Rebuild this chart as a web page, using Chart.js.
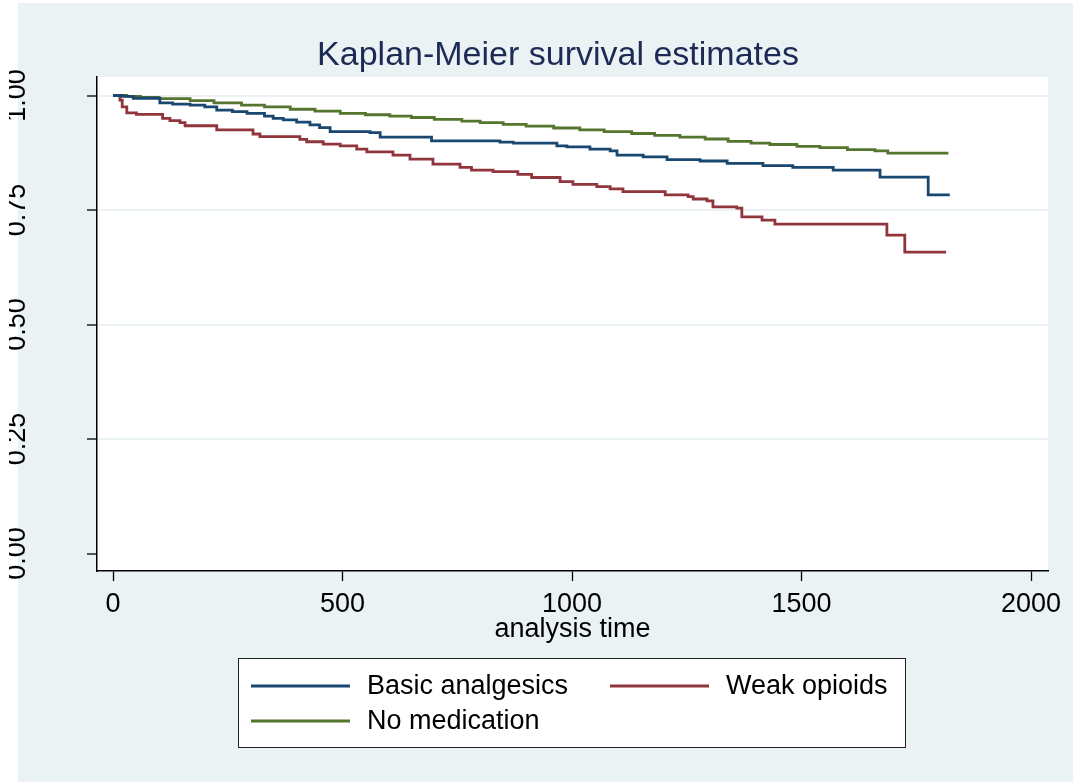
<!DOCTYPE html>
<html lang="en">
<head>
<meta charset="UTF-8">
<title>Kaplan-Meier survival estimates</title>
<script src="https://cdn.jsdelivr.net/npm/chart.js"></script>
<style>
  html, body { margin: 0; padding: 0; background: #fff; }
  canvas { display: block; }
</style>
</head>
<body>
<canvas id="km" width="1073" height="782"></canvas>
<script>
// KM step curves (analysis time in days, survival estimate)
const basicTimes = [0, 20, 44, 102, 130, 168, 200, 226, 260, 292, 330, 349, 371, 400, 429, 450, 473, 560, 582, 694, 843, 872, 967, 989, 1039, 1083, 1098, 1155, 1207, 1279, 1338, 1416, 1481, 1569, 1671, 1776, 1823];
const basicSurv  = [1.0, 0.998, 0.994, 0.984, 0.981, 0.979, 0.975, 0.968, 0.965, 0.961, 0.955, 0.950, 0.947, 0.942, 0.936, 0.930, 0.921, 0.919, 0.909, 0.901, 0.898, 0.896, 0.890, 0.888, 0.883, 0.879, 0.870, 0.866, 0.860, 0.857, 0.852, 0.847, 0.843, 0.837, 0.822, 0.783, 0.783];

const weakTimes = [0, 15, 20, 30, 51, 108, 124, 146, 157, 226, 305, 320, 407, 422, 458, 495, 531, 553, 610, 647, 697, 756, 781, 828, 882, 912, 974, 1002, 1054, 1083, 1111, 1203, 1253, 1264, 1294, 1307, 1359, 1370, 1414, 1442, 1686, 1725, 1815];
const weakSurv  = [1.0, 0.990, 0.975, 0.962, 0.959, 0.950, 0.945, 0.941, 0.934, 0.925, 0.916, 0.910, 0.904, 0.899, 0.894, 0.890, 0.883, 0.877, 0.870, 0.861, 0.850, 0.843, 0.837, 0.834, 0.828, 0.821, 0.812, 0.806, 0.801, 0.796, 0.790, 0.783, 0.779, 0.774, 0.770, 0.757, 0.754, 0.735, 0.728, 0.719, 0.695, 0.658, 0.658];

const noneTimes = [0, 30, 60, 100, 168, 220, 280, 330, 386, 440, 495, 550, 603, 650, 700, 760, 800, 850, 900, 960, 1017, 1070, 1130, 1180, 1235, 1290, 1340, 1390, 1431, 1490, 1540, 1600, 1660, 1688, 1820];
const noneSurv  = [1.0, 0.998, 0.996, 0.993, 0.989, 0.984, 0.979, 0.975, 0.970, 0.966, 0.961, 0.958, 0.955, 0.952, 0.948, 0.944, 0.941, 0.937, 0.933, 0.929, 0.925, 0.921, 0.917, 0.913, 0.909, 0.905, 0.900, 0.896, 0.893, 0.889, 0.886, 0.882, 0.879, 0.874, 0.874];

const groupLabels = ['Basic analgesics', 'Weak opioids', 'No medication'];
const groupColors = ['#1a476f', '#90353b', '#55752f'];

const xTicks = [0, 500, 1000, 1500, 2000];
const xTickLabels = ['0', '500', '1000', '1500', '2000'];
const yTicks = [0, 0.25, 0.5, 0.75, 1];
const yTickLabels = ['0.00', '0.25', '0.50', '0.75', '1.00'];

const chartTitle = 'Kaplan-Meier survival estimates';
const xTitle = 'analysis time';

const FONT = '"Liberation Sans", Arial, sans-serif';
const BG = '#eaf2f3';

function toPoints(times, surv) {
    return times.map((t, i) => ({ x: t, y: surv[i] }));
}

// stata-ish decorations: graph region, title, rotated y labels, boxed legend
const stataLook = {
    id: 'stataLook',
    beforeDraw(chart) {
        const ctx = chart.ctx, a = chart.chartArea;
        ctx.save();
        ctx.fillStyle = '#fff';
        ctx.fillRect(0, 0, chart.width, chart.height);
        ctx.fillStyle = BG;
        ctx.fillRect(18, 3, chart.width - 18, chart.height - 3);
        ctx.fillStyle = '#fff';
        ctx.fillRect(a.left, a.top, a.right - a.left, a.bottom - a.top);
        ctx.restore();
    },
    afterDraw(chart) {
        const ctx = chart.ctx, a = chart.chartArea;
        const yScale = chart.scales.y;
        ctx.save();

        // title
        ctx.fillStyle = '#1c2b56';
        ctx.font = '34px ' + FONT;
        ctx.textAlign = 'center';
        ctx.textBaseline = 'alphabetic';
        ctx.fillText(chartTitle, 558, 65);

        // x axis title
        ctx.fillStyle = '#000';
        ctx.font = '27px ' + FONT;
        ctx.fillText(xTitle, (a.left + a.right) / 2, 637);

        // y tick labels, rotated, cut at the left edge like the original
        ctx.save();
        ctx.beginPath();
        ctx.rect(9, 0, chart.width, chart.height);
        ctx.clip();
        yTicks.forEach((v, i) => {
            const py = yScale.getPixelForValue(v);
            ctx.save();
            ctx.translate(25, py);
            ctx.rotate(-Math.PI / 2);
            ctx.textAlign = 'center';
            ctx.fillText(yTickLabels[i], 0, 0);
            ctx.restore();
        });
        ctx.restore();

        // legend box
        ctx.fillStyle = '#fff';
        ctx.fillRect(238, 658, 667, 89);
        ctx.strokeStyle = '#222';
        ctx.lineWidth = 1;
        ctx.strokeRect(238.5, 658.5, 667, 89);
        ctx.textAlign = 'left';
        ctx.textBaseline = 'middle';
        chart.data.datasets.forEach((ds, i) => {
            const col = i % 2, row = Math.floor(i / 2);
            const lx = col === 0 ? 251 : 610;
            const ly = 686 + row * 35;
            ctx.strokeStyle = ds.borderColor;
            ctx.lineWidth = 3;
            ctx.beginPath();
            ctx.moveTo(lx, ly);
            ctx.lineTo(lx + 99, ly);
            ctx.stroke();
            ctx.fillStyle = '#000';
            ctx.fillText(ds.label, lx + 116, ly + 1);
        });

        ctx.restore();
    }
};

const series = [
    toPoints(basicTimes, basicSurv),
    toPoints(weakTimes, weakSurv),
    toPoints(noneTimes, noneSurv)
];

new Chart(document.getElementById('km').getContext('2d'), {
    type: 'line',
    data: {
        datasets: series.map((pts, i) => ({
            label: groupLabels[i],
            data: pts,
            borderColor: groupColors[i],
            borderWidth: 2.8,
            stepped: 'before',
            pointRadius: 0,
            fill: false
        }))
    },
    options: {
        responsive: false,
        animation: false,
        devicePixelRatio: 1,
        layout: { padding: { top: 77, right: 25, left: 0, bottom: 0 } },
        plugins: {
            legend: { display: false },
            title: { display: false },
            tooltip: { enabled: false }
        },
        scales: {
            x: {
                type: 'linear',
                min: -34.9,
                max: 2037,
                afterBuildTicks: s => { s.ticks = xTicks.map(v => ({ value: v })); },
                afterFit: s => { s.height = 211; },
                ticks: {
                    autoSkip: false,
                    maxRotation: 0,
                    padding: 7,
                    color: '#000',
                    font: { family: FONT, size: 27 },
                    callback: (v, i) => xTickLabels[i]
                },
                grid: {
                    drawOnChartArea: false,
                    tickLength: 10,
                    tickColor: '#000',
                    tickWidth: 1.3
                },
                border: { display: true, color: '#000', width: 1.5 }
            },
            y: {
                type: 'linear',
                min: -0.0382,
                max: 1.0404,
                afterBuildTicks: s => { s.ticks = yTicks.map(v => ({ value: v })); },
                afterFit: s => { s.width = 97; },
                ticks: { display: false },
                grid: {
                    color: c => (c.tick && c.tick.value === 0) ? 'rgba(0,0,0,0)' : BG,
                    lineWidth: 2,
                    tickLength: 10,
                    tickColor: '#000',
                    tickWidth: 1.3
                },
                border: { display: true, color: '#000', width: 1.5 }
            }
        }
    },
    plugins: [stataLook]
});
</script>
</body>
</html>
